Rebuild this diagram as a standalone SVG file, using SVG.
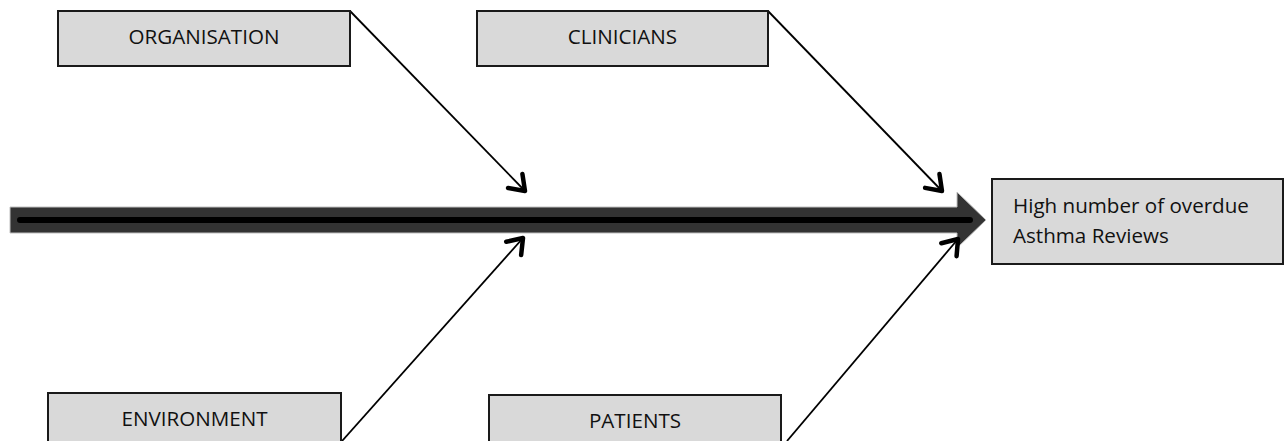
<svg xmlns="http://www.w3.org/2000/svg" width="1285" height="441" viewBox="0 0 1285 441">
<defs>
<style>
.box{fill:#d9d9d9;stroke:#1a1a1a;stroke-width:2}
.lbl{font-family:"Open Sans","Liberation Sans",sans-serif;font-size:20.6px;fill:#111;text-anchor:middle}
.res{font-family:"Open Sans","Liberation Sans",sans-serif;font-size:20.6px;fill:#111}
.con{fill:none;stroke:#000;stroke-width:1.8}
</style>
<marker id="ah" markerUnits="userSpaceOnUse" markerWidth="40" markerHeight="40" viewBox="-20 -20 40 40" refX="0" refY="0" orient="auto">
<path d="M-14,-10 L0,0 L-14,10" fill="none" stroke="#000" stroke-width="4.5" stroke-linecap="round" stroke-linejoin="round"/>
</marker>
</defs>
<rect width="1285" height="441" fill="#fff"/>
<g id="spine">
<polygon points="10,207 957,207 957,192 986,220 957,248 957,233 10,233" fill="#333" stroke="#c0c0c0" stroke-width="1"/>
<line x1="20" y1="220" x2="970" y2="220" stroke="#000" stroke-width="6" stroke-linecap="round"/>
</g>
<g id="connectors">
<line class="con" x1="350" y1="11" x2="525" y2="191" marker-end="url(#ah)"/>
<line class="con" x1="768" y1="11" x2="942" y2="191" marker-end="url(#ah)"/>
<line class="con" x1="342" y1="441" x2="523" y2="238" marker-end="url(#ah)"/>
<line class="con" x1="787" y1="441" x2="958" y2="239" marker-end="url(#ah)"/>
</g>
<g id="organisation">
<rect class="box" x="58" y="11" width="292" height="55"/>
<text class="lbl" x="204" y="44">ORGANISATION</text>
</g>
<g id="clinicians">
<rect class="box" x="477" y="11" width="291" height="55"/>
<text class="lbl" x="622.5" y="44">CLINICIANS</text>
</g>
<g id="environment">
<rect class="box" x="48" y="393" width="293" height="60"/>
<text class="lbl" x="194.5" y="426">ENVIRONMENT</text>
</g>
<g id="patients">
<rect class="box" x="489" y="395" width="292" height="60"/>
<text class="lbl" x="635" y="428">PATIENTS</text>
</g>
<g id="result">
<rect class="box" x="992" y="179" width="291" height="85"/>
<text class="res" x="1013" y="213">High number of overdue</text>
<text class="res" x="1013" y="243">Asthma Reviews</text>
</g>
</svg>
